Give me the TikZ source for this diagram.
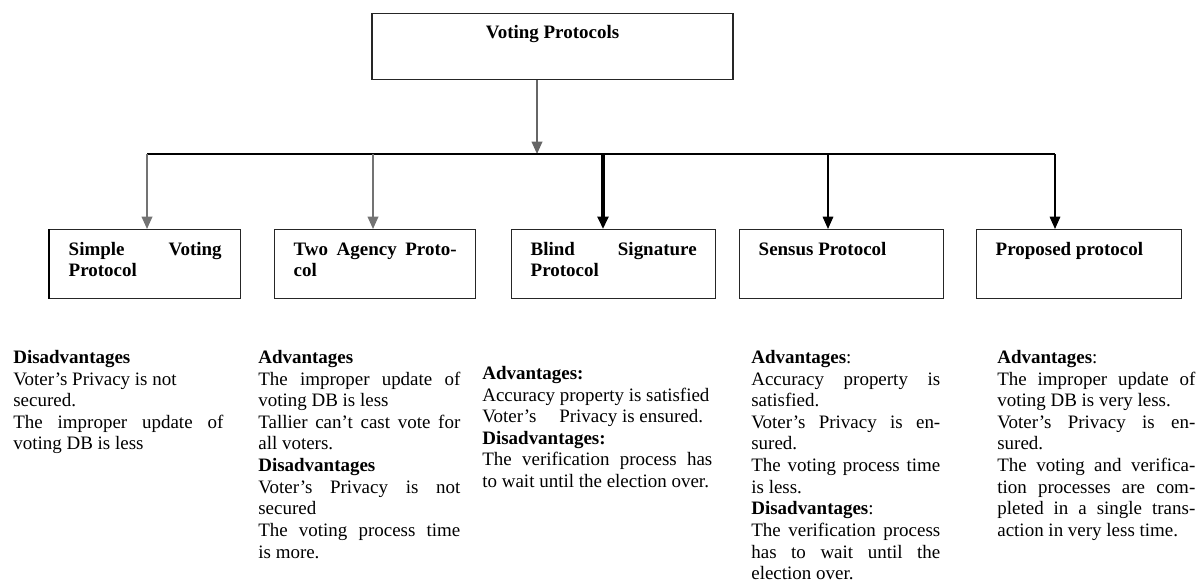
\documentclass[tikz,border=0pt]{standalone}
\usepackage{fontspec}
\setmainfont{Liberation Serif}
\usetikzlibrary{arrows.meta}
\lineskiplimit=-10pt

\begin{document}
\begin{tikzpicture}[x=0.02cm, y=-0.02cm,
    font=\fontsize{10.8}{12.3}\selectfont,
    >={Triangle[width=6pt,length=7pt]},
    pbox/.style={draw=black!85, line width=0.8pt, anchor=north west,
      align=justify, font=\fontsize{10.8}{12}\selectfont\bfseries,
      inner xsep=0.38cm, inner ysep=0pt, text height=0.52cm, text depth=0.86cm},
    note/.style={anchor=north west, inner sep=0pt, align=justify},
    link/.style={->, line width=1pt}, bar/.style={line width=0.8pt} ]

    \useasboundingbox (0,0) rectangle (1197,582);

    \node[draw=black!85, line width=0.8pt, anchor=north, minimum width=7.22cm,
      inner ysep=0pt, text height=0.5cm, text depth=0.82cm,
      font=\fontsize{10.8}{12}\selectfont\bfseries] (root) at (552.5,13)
      {Voting Protocols};

    \node[pbox, text width=3.06cm] (simple) at (49,229)
      {Simple Voting\linebreak Protocol};
    \node[pbox, text width=3.26cm] (agency) at (274,229)
      {Two Agency Proto-\linebreak col};
    \node[pbox, text width=3.32cm] (blind) at (511,229)
      {Blind Signature\linebreak Protocol};
    \node[pbox, text width=3.32cm] (sensus) at (739,229) {Sensus Protocol};
    \node[pbox, text width=3.34cm] (proposed) at (976,229) {Proposed protocol};
    \draw[line width=1.6pt] (simple.north west) -- (simple.south west);

    \coordinate (hub) at (537,154);
    \coordinate (j1) at (147,154); \coordinate (j2) at (373,154);
    \coordinate (j3) at (603,154); \coordinate (j4) at (828,154);
    \coordinate (j5) at (1055,154);

    \draw[link, black!60] (root.south -| hub) -- (hub);
    \draw[bar] (j1) -- (j5);
    \draw[link, black!55] (j1) -- (j1 |- simple.north);
    \draw[link, black!55] (j2) -- (j2 |- agency.north);
    \draw[link, line width=1.8pt] (j3) -- (j3 |- blind.north);
    \draw[link, line width=0.8pt] (j4) -- (j4 |- sensus.north);
    \draw[link, line width=0.8pt] (j5) -- (j5 |- proposed.north);

    \node[note, text width=4.2cm] (simplenote) at (13,350) {
      \textbf{Disadvantages}\\
      Voter’s Privacy is not\\
      secured.\\
      The improper update of\linebreak voting DB is less};

    \node[note, text width=4.04cm] (agencynote) at (258,350) {
      \textbf{Advantages}\\
      The improper update of\linebreak voting DB is less\\
      Tallier can't cast vote for\linebreak all voters.\\
      \textbf{Disadvantages}\\
      Voter’s Privacy is not\linebreak secured\\
      The voting process time\linebreak is more.};

    \node[note, text width=4.6cm] (blindnote) at (482,366) {
      \textbf{Advantages:}\\
      Accuracy property is satisfied\\
      Voter’s\hspace{13pt}Privacy is ensured.\\
      \textbf{Disadvantages:}\\
      The verification process has\linebreak to wait until the election over.};

    \node[note, text width=3.78cm] (sensusnote) at (751,350) {
      \textbf{Advantages}:\\
      Accuracy property is\linebreak satisfied.\\
      Voter’s Privacy is en-\linebreak sured.\\
      The voting process time\linebreak is less.\\
      \textbf{Disadvantages}:\\
      The verification process\linebreak has to wait until the\linebreak
      election over.};

    \node[note, text width=3.96cm] (proposednote) at (997,350) {
      \textbf{Advantages}:\\
      The improper update of\linebreak voting DB is very less.\\
      Voter’s Privacy is en-\linebreak sured.\\
      The voting and verifica-\linebreak tion processes are com-\linebreak
      pleted in a single trans-\linebreak action in very less time.};

  \end{tikzpicture}
\end{document}
